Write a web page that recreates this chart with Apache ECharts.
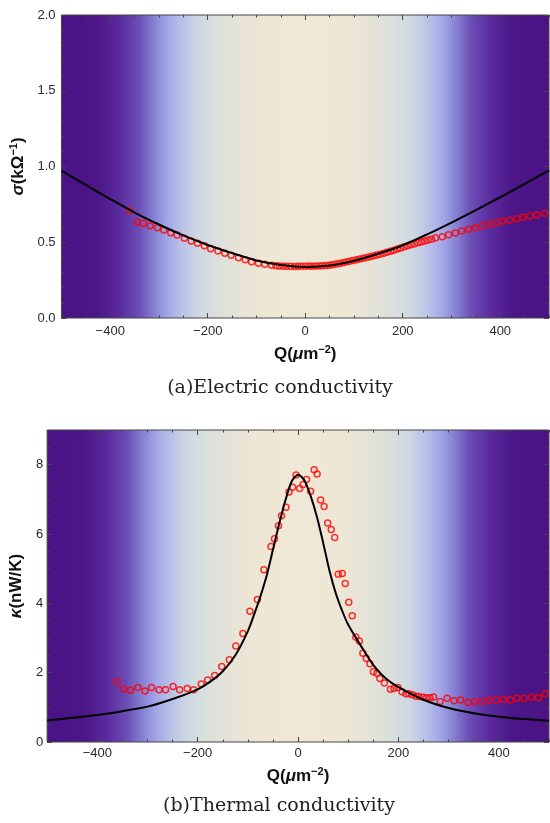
<!DOCTYPE html>
<html><head><meta charset="utf-8">
<script src="https://cdn.jsdelivr.net/npm/echarts@6/dist/echarts.min.js"></script>
<style>html,body{margin:0;padding:0;background:#fff}#c{width:550px;height:823px}</style>
</head><body><div id="c"></div>
<script>
// ---- data ----
const sigmaExpQ = [-360,-345,-332,-318,-303,-290,-276,-263,-248,-234,-221,-207,-194,-179,-165,-152,-137,-123,-110,-96,-83,-69,-60,-53,-45,-38,-30,-22,-15,-8,0,7,14,21,28,35,42,49,56,63,70,77,84,91,98,105,112,119,126,133,140,147,154,161,168,175,182,189,196,203,210,217,224,231,238,245,252,259,267,281,294,308,321,335,349,363,378,392,405,420,434,447,461,475,491];
const sigmaExpV = [0.708,0.634,0.625,0.609,0.596,0.581,0.563,0.548,0.526,0.508,0.493,0.477,0.457,0.442,0.427,0.414,0.398,0.385,0.372,0.361,0.354,0.348,0.345,0.344,0.342,0.341,0.342,0.340,0.341,0.342,0.342,0.343,0.342,0.343,0.344,0.345,0.346,0.349,0.352,0.356,0.360,0.364,0.369,0.375,0.379,0.384,0.389,0.394,0.400,0.405,0.411,0.416,0.421,0.428,0.434,0.440,0.447,0.455,0.462,0.470,0.477,0.484,0.490,0.496,0.502,0.509,0.515,0.520,0.528,0.537,0.550,0.561,0.574,0.585,0.596,0.609,0.618,0.629,0.638,0.647,0.655,0.665,0.673,0.680,0.691];
const sigmaFitQ = [-500,-450,-400,-350,-300,-250,-200,-150,-100,-50,0,50,100,150,200,250,300,350,400,450,500];
const sigmaFitV = [0.972,0.878,0.785,0.696,0.617,0.545,0.482,0.428,0.380,0.350,0.337,0.346,0.378,0.424,0.480,0.552,0.630,0.712,0.797,0.885,0.975];

const kappaExpQ = [-361,-348,-334,-319,-305,-292,-277,-264,-249,-236,-221,-208,-193,-180,-166,-152,-137,-124,-110,-96,-81,-68,-54,-47,-39,-33,-24,-18,-11,-4,3,10,17,25,32,38,45,52,59,66,73,80,88,94,101,108,115,122,129,136,143,150,157,163,172,184,191,199,207,215,221,228,235,241,249,256,263,270,283,297,311,324,339,352,367,381,395,409,423,436,450,465,479,492];
const kappaExpV = [1.74,1.53,1.49,1.57,1.47,1.57,1.51,1.51,1.60,1.51,1.54,1.51,1.67,1.79,1.92,2.18,2.37,2.77,3.13,3.77,4.11,4.97,5.64,5.86,6.24,6.53,6.77,7.21,7.35,7.70,7.31,7.43,7.57,7.23,7.85,7.73,6.98,6.79,6.32,6.13,5.90,4.84,4.86,4.57,4.03,3.64,3.03,2.91,2.56,2.41,2.26,2.03,1.98,1.83,1.70,1.52,1.54,1.57,1.45,1.39,1.39,1.36,1.32,1.31,1.29,1.28,1.28,1.30,1.17,1.26,1.19,1.21,1.14,1.17,1.17,1.21,1.21,1.23,1.21,1.26,1.26,1.29,1.28,1.39];
const kappaFitQ = [-500,-450,-400,-350,-300,-250,-200,-175,-150,-125,-100,-87.5,-75,-62.5,-50,-37.5,-25,-12.5,0,12.5,25,37.5,50,62.5,75,87.5,100,125,150,175,200,250,300,350,400,450,500];
const kappaFitV = [0.62,0.70,0.78,0.89,1.02,1.24,1.52,1.74,2.04,2.50,3.20,3.68,4.20,4.80,5.55,6.30,6.98,7.52,7.71,7.55,7.10,6.50,5.75,4.95,4.30,3.80,3.38,2.78,2.22,1.83,1.58,1.22,0.98,0.83,0.73,0.66,0.61];

const qTicks = [-400,-200,0,200,400];
const sigmaTicks = [0,0.5,1,1.5,2];
const kappaTicks = [0,2,4,6,8];
const captions = ['(a)Electric conductivity','(b)Thermal conductivity'];

// ---- styling ----
const SANS = "'Liberation Sans', Arial, sans-serif";
const FRAME = '#444';
const TXT = '#2a2a2a';
const bgStops = [[0,'#4a1285'],[0.075,'#4c1688'],[0.12,'#5a2b9e'],[0.16,'#6c4db5'],[0.19,'#8580d2'],[0.215,'#a0a3e6'],[0.245,'#b8c0e8'],[0.28,'#cdd8e2'],[0.32,'#dbe0dc'],[0.37,'#e7e3d7'],[0.42,'#efe7d6'],[0.5,'#f0e8d6'],[0.58,'#efe7d6'],[0.63,'#e7e3d7'],[0.68,'#dbe0dc'],[0.72,'#cdd8e2'],[0.755,'#b8c0e8'],[0.785,'#a0a3e6'],[0.81,'#8580d2'],[0.84,'#6c4db5'],[0.88,'#5a2b9e'],[0.925,'#4c1688'],[1,'#4a1285']];
function bg(){ return new echarts.graphic.LinearGradient(0,0,1,0,bgStops.map(s=>({offset:s[0],color:s[1]}))); }
function zip(a,b){ return a.map((v,i)=>[v,b[i]]); }
const fmtMinus = v => (v < 0 ? '\u2212' + Math.abs(v) : String(v));
const richName = {
  n:{fontSize:17,fontWeight:'bold',fontFamily:SANS,color:'#111',lineHeight:20},
  i:{fontSize:17,fontWeight:'bold',fontStyle:'italic',fontFamily:SANS,color:'#111',lineHeight:20},
  s:{fontSize:11,fontWeight:'bold',fontFamily:SANS,color:'#111',lineHeight:12,verticalAlign:'top'}
};
const labelStyle = {fontSize:13,color:TXT,fontFamily:SANS};

function axisSet(g, dim, min, max, ticks, minorStep, fmt, margin, name, nameGap){
  const isX = dim === 'x';
  const posA = isX ? 'bottom' : 'left', posB = isX ? 'top' : 'right';
  const base = {gridIndex:g,type:'value',min:min,max:max,axisLine:{show:false,onZero:false},splitLine:{show:false}};
  return [
    Object.assign({}, base, {position:posA,
      axisTick:{show:true,inside:true,length:5,customValues:ticks,lineStyle:{color:FRAME,width:1}},
      axisLabel:Object.assign({customValues:ticks,formatter:fmt,margin:margin}, labelStyle),
      name:name,nameLocation:'middle',nameGap:nameGap,nameRotate:isX?0:90,nameTextStyle:{rich:richName}}),
    Object.assign({}, base, {position:posA,interval:minorStep,
      axisTick:{show:true,inside:true,length:2.5,lineStyle:{color:FRAME,width:1}},axisLabel:{show:false}}),
    Object.assign({}, base, {position:posB,
      axisTick:{show:true,inside:true,length:5,customValues:ticks,lineStyle:{color:FRAME,width:1}},axisLabel:{show:false}}),
    Object.assign({}, base, {position:posB,interval:minorStep,
      axisTick:{show:true,inside:true,length:2.5,lineStyle:{color:FRAME,width:1}},axisLabel:{show:false}})
  ];
}

const qName = '{n|Q(}{i|\u03bc}{n|m}{s|\u22122}{n|)}';
const xAxes = [].concat(
  axisSet(0,'x',-500,500,qTicks,50,fmtMinus,7,qName,26),
  axisSet(1,'x',-500,500,qTicks,50,fmtMinus,5,qName,24)
);
const yAxes = [].concat(
  axisSet(0,'y',0,2,sigmaTicks,0.1,v=>v.toFixed(1),6,'{i|\u03c3}{n|(k\u03a9}{s|\u22121}{n|)}',27),
  axisSet(1,'y',0,9,kappaTicks,0.5,v=>String(v),4,'{i|\u03ba}{n|(nW/K)}',18)
);

const scatterStyle = {symbol:'circle',symbolSize:6,itemStyle:{color:'rgba(255,0,0,0)',borderColor:'#ff0000',borderWidth:1.5}};
const lineStyleFit = {showSymbol:false,smooth:0.3,lineStyle:{color:'#000',width:2},z:3,clip:true};

const chart = echarts.init(document.getElementById('c'), null, {renderer:'canvas'});
chart.setOption({
  animation:false,
  backgroundColor:'#fff',
  grid:[
    {left:59,right:1,top:15,height:303,show:true,backgroundColor:bg(),borderColor:FRAME,borderWidth:1},
    {left:45,right:1,top:430,height:312,show:true,backgroundColor:bg(),borderColor:FRAME,borderWidth:1}
  ],
  xAxis:xAxes,
  yAxis:yAxes,
  series:[
    Object.assign({type:'scatter',xAxisIndex:0,yAxisIndex:0,data:zip(sigmaExpQ,sigmaExpV),z:2}, scatterStyle),
    Object.assign({type:'line',xAxisIndex:0,yAxisIndex:0,data:zip(sigmaFitQ,sigmaFitV)}, lineStyleFit),
    Object.assign({type:'scatter',xAxisIndex:4,yAxisIndex:4,data:zip(kappaExpQ,kappaExpV),z:2}, scatterStyle),
    Object.assign({type:'line',xAxisIndex:4,yAxisIndex:4,data:zip(kappaFitQ,kappaFitV)}, lineStyleFit)
  ],
  graphic:[
    {type:'text',x:280,y:388,style:{text:captions[0],fontFamily:"'DejaVu Serif', serif",fontSize:19,fill:'#222',align:'center',verticalAlign:'middle'}},
    {type:'text',x:279,y:806,style:{text:captions[1],fontFamily:"'DejaVu Serif', serif",fontSize:19,fill:'#222',align:'center',verticalAlign:'middle'}}
  ]
});
</script></body></html>
